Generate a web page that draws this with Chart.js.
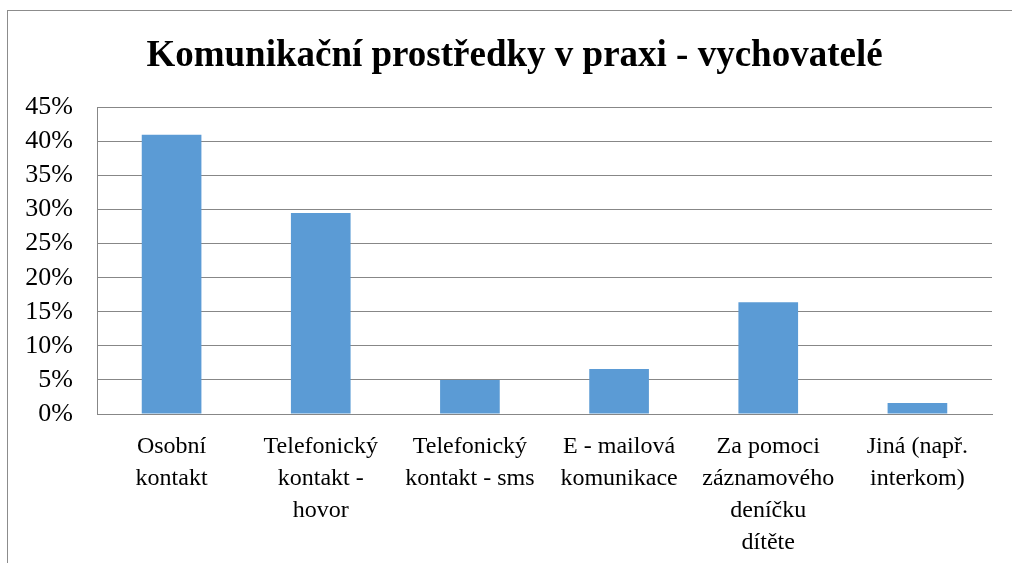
<!DOCTYPE html>
<html>
<head>
<meta charset="utf-8">
<script src="https://cdn.jsdelivr.net/npm/chart.js@4"></script>
<style>
  html, body { margin: 0; padding: 0; background: #fff; }
  #wrap { position: relative; width: 1012px; height: 563px; }
  #frame { position: absolute; left: 7px; top: 10px; right: 0; bottom: 0;
           border-left: 1px solid #8c8c8c; border-top: 1px solid #8c8c8c; pointer-events: none; }
</style>
</head>
<body>
<div id="wrap">
  <canvas id="graf" width="1012" height="563"></canvas>
  <div id="frame"></div>
</div>
<script>
// kategorie a hodnoty (v %)
const kategorie = [
    ['Osobní', 'kontakt'],
    ['Telefonický', 'kontakt -', 'hovor'],
    ['Telefonický', 'kontakt - sms'],
    ['E - mailová', 'komunikace'],
    ['Za pomoci', 'záznamového', 'deníčku', 'dítěte'],
    ['Jiná (např.', 'interkom)']
];
const hodnoty = [41, 29.5, 5, 6.6, 16.4, 1.6];
const nazev = 'Komunikační prostředky v praxi - vychovatelé';

const pismo = "'Liberation Serif', 'Times New Roman', serif";
const mrizka = '#878787';

function vykresli() {
    new Chart(document.getElementById('graf').getContext('2d'), {
        type: 'bar',
        data: {
            labels: kategorie,
            datasets: [{
                data: hodnoty,
                backgroundColor: '#5B9BD5',
                barPercentage: 0.4,
                categoryPercentage: 1.0
            }]
        },
        options: {
            responsive: false,
            animation: false,
            layout: { padding: { left: 0, right: 20, top: 0, bottom: 0 } },
            plugins: {
                legend: { display: false },
                tooltip: { enabled: false },
                title: {
                    display: true,
                    // mezery na začátku posunou nadpis trochu doprava
                    text: '\u2002\u2002' + nazev,
                    color: '#000',
                    font: { family: pismo, size: 37, weight: 'bold', lineHeight: 1.2 },
                    padding: { top: 34, bottom: 29 }
                }
            },
            scales: {
                x: {
                    grid: { display: false },
                    border: { display: true, color: mrizka, width: 1 },
                    ticks: {
                        color: '#000',
                        autoSkip: false,
                        maxRotation: 0,
                        minRotation: 0,
                        padding: 9,
                        font: { family: pismo, size: 24, lineHeight: 1.33 }
                    },
                    afterFit: s => { s.height = 149; }
                },
                y: {
                    min: 0,
                    max: 45,
                    grid: { color: mrizka, drawTicks: false },
                    border: { display: true, color: mrizka },
                    ticks: {
                        stepSize: 5,
                        autoSkip: false,
                        color: '#000',
                        padding: 24,
                        font: { family: pismo, size: 26, lineHeight: 1 },
                        callback: v => v + '%'
                    },
                    afterFit: s => { s.width = 97; }
                }
            }
        }
    });
}

Promise.all([
    document.fonts.load("24px 'Liberation Serif'"),
    document.fonts.load("bold 37px 'Liberation Serif'")
]).then(vykresli, vykresli);
</script>
</body>
</html>
